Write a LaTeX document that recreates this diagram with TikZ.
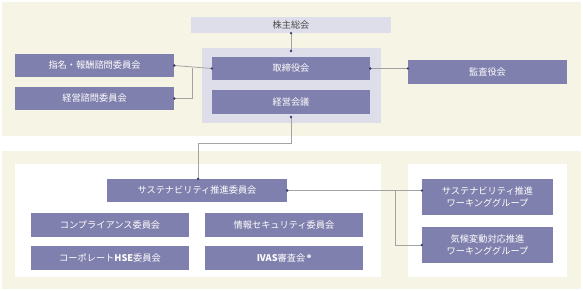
\documentclass[tikz,border=0pt]{standalone}
\usepackage{fontspec}
\setmainfont{Noto Sans CJK JP}
\newfontfamily\symfont{DejaVu Sans}
\definecolor{boxfill}{HTML}{8080AE}
\definecolor{panelbg}{HTML}{F6F4E5}
\definecolor{groupbg}{HTML}{DEDEEB}
\definecolor{linecol}{HTML}{A3A3A3}
\definecolor{dotcol}{HTML}{3A3A6C}
\tikzset{
  org/.style={fill=boxfill, text=white, inner sep=0pt, align=center,
    font=\fontsize{9.2}{12}\selectfont},
  link/.style={draw=linecol, line width=0.8pt},
  dot/.style={fill=dotcol},
}
\begin{document}
\begin{tikzpicture}[x=1pt, y=-1pt]
    \useasboundingbox (0,0) rectangle (583,291);
    \fill[panelbg] (2,2) rectangle (581,136);
    \fill[panelbg] (2,151) rectangle (581,289);
    \fill[white] (15,164) rectangle (381,277);
    \fill[white] (408,164) rectangle (567,277);
    \fill[groupbg] (202,48) rectangle (381,123);

    \node[org, fill=groupbg, text=black!70, minimum width=200pt, minimum height=16pt] (kabunushi) at (291,25) {株主総会};
    \node[org, minimum width=158pt, minimum height=23pt] (torishimari) at (291,68.5) {取締役会};
    \node[org, minimum width=158pt, minimum height=24pt] (kaigi) at (291,102) {経営会議};
    \node[org, minimum width=159pt, minimum height=23pt] (shimei) at (94.5,65.5) {指名・報酬諮問委員会};
    \node[org, minimum width=159pt, minimum height=23pt] (shimon) at (94.5,98.5) {経営諮問委員会};
    \node[org, minimum width=159pt, minimum height=24pt] (kansa) at (487.5,72) {監査役会};

    \node[org, minimum width=180pt, minimum height=23pt] (suishin) at (197,190.5) {サステナビリティ推進委員会};
    \node[org, minimum width=158pt, minimum height=24pt] (compliance) at (110,225) {コンプライアンス委員会};
    \node[org, minimum width=158pt, minimum height=24pt] (hse) at (110,258) {コーポレート\textbf{HSE}委員会};
    \node[org, minimum width=158pt, minimum height=24pt] (security) at (284,225) {情報セキュリティ委員会};
    \node[org, minimum width=158pt, minimum height=24pt] (ivas) at (284,258) {\textbf{IVAS}審査会\,\raisebox{3pt}{\symfont\fontsize{5}{5}\selectfont ❶}};
    \node[org, minimum width=131pt, minimum height=36pt] (wgone) at (487.5,197) {サステナビリティ推進\\ワーキンググループ};
    \node[org, minimum width=131pt, minimum height=36pt] (wgtwo) at (487.5,245) {気候変動対応推進\\ワーキンググループ};

    \coordinate (top) at (291,51);
    \coordinate (bottom) at (291,117);
    \coordinate (joinleft) at (192,68.5);
    \coordinate (turn) at (198,143);
    \coordinate (joinright) at (395,190.5);

    \draw[link] (kabunushi.south) -- (top);
    \draw[link] (shimei.east) -- (torishimari.west);
    \draw[link] (shimon.east) -| (joinleft);
    \draw[link] (torishimari.east) -- (kansa.west |- torishimari.east);
    \draw[link] (bottom) |- (turn) -- (suishin.north -| turn);
    \draw[link] (suishin.east) -- (wgone.west |- suishin.east);
    \draw[link] (joinright) |- (wgtwo.west);

    \foreach \p in {kabunushi.south, top, shimei.east, shimon.east, torishimari.west,
      torishimari.east, bottom, suishin.east, wgtwo.west}
      \fill[dot] (\p) circle (1.3pt);
    \fill[dot] (kansa.west |- torishimari.east) circle (1.3pt);
    \fill[dot] (suishin.north -| turn) circle (1.3pt);
    \fill[dot] (wgone.west |- suishin.east) circle (1.3pt);
  \end{tikzpicture}
\end{document}
